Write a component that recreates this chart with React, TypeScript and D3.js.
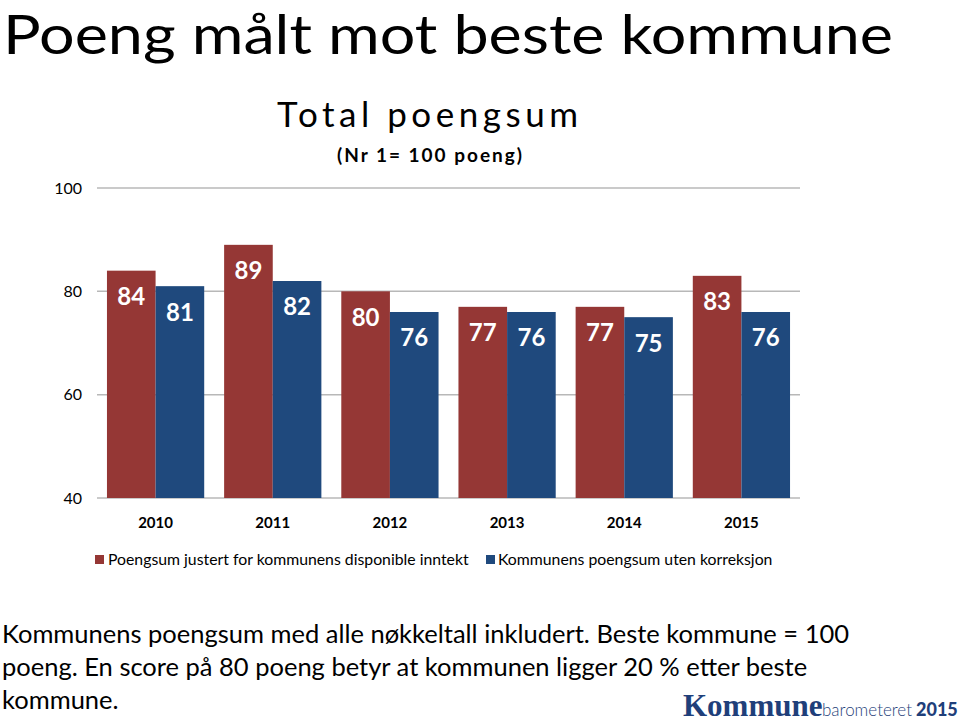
import React from "react";
import * as d3 from "d3";

const years = ["2010", "2011", "2012", "2013", "2014", "2015"];
const adjusted = [84, 89, 80, 77, 77, 83];
const uncorrected = [81, 82, 76, 76, 75, 76];
const yTicks = [40, 60, 80, 100];
const seriesNames = [
  "Poengsum justert for kommunens disponible inntekt",
  "Kommunens poengsum uten korreksjon",
];
const colors = ["#953735", "#1F497D"];

const FONT = "Lato, 'Open Sans', sans-serif";

export default function App() {
  const left = 97;
  const right = 800;
  const top = 188;
  const bottom = 498;
  const x = d3.scaleBand<string>().domain(years).range([left, right]).paddingInner(0.17).paddingOuter(0.085);
  const xs = d3.scaleBand<number>().domain([0, 1]).range([0, x.bandwidth()]);
  const y = d3.scaleLinear().domain([40, 100]).range([bottom, top]);
  const series = [adjusted, uncorrected];

  return (
    <svg
      width={960}
      height={722}
      style={{ position: "absolute", left: 0, top: 0, background: "#fff" }}
      fontFamily={FONT}
    >
      <text x={3} y={54} fontSize={54} fill="#000" textLength={890} lengthAdjust="spacingAndGlyphs">
        Poeng målt mot beste kommune
      </text>
      <text x={277} y={127} fontSize={35} fill="#000" textLength={301} lengthAdjust="spacing">
        Total poengsum
      </text>
      <text x={337} y={162} fontSize={19} fontWeight="bold" fill="#000" textLength={185} lengthAdjust="spacing">
        (Nr 1= 100 poeng)
      </text>

      {yTicks.map((t) => (
        <g key={t}>
          <line x1={left} x2={right} y1={y(t)} y2={y(t)} stroke="#b8b8b8" strokeWidth={1.5} />
          <text x={82} y={y(t)} dy="0.35em" fontSize={16} textAnchor="end" fill="#000">
            {t}
          </text>
        </g>
      ))}

      {years.map((yr, i) => (
        <g key={yr} transform={`translate(${x(yr)},0)`}>
          {series.map((s, j) => (
            <g key={j}>
              <rect
                x={xs(j)}
                y={y(s[i])}
                width={xs.bandwidth()}
                height={y(40) - y(s[i])}
                fill={colors[j]}
              />
              <text
                x={(xs(j) as number) + xs.bandwidth() / 2}
                y={y(s[i]) + 26}
                dy="0.35em"
                fontSize={24}
                fontWeight="bold"
                fill="#fff"
                textAnchor="middle"
              >
                {s[i]}
              </text>
            </g>
          ))}
          <text
            x={x.bandwidth() / 2}
            y={523}
            dy="0.35em"
            fontSize={15}
            fontWeight="bold"
            textAnchor="middle"
            fill="#000"
          >
            {yr}
          </text>
        </g>
      ))}

      <g>
        <rect x={95} y={555} width={9} height={9} fill={colors[0]} />
        <text x={108} y={559.5} dy="0.35em" fontSize={15.8} fill="#000">
          {seriesNames[0]}
        </text>
        <rect x={486} y={555} width={9} height={9} fill={colors[1]} />
        <text x={498} y={559.5} dy="0.35em" fontSize={15.8} fill="#000">
          {seriesNames[1]}
        </text>
      </g>

      <g fontSize={25.5} fill="#000">
        <text x={2} y={643}>Kommunens poengsum med alle nøkkeltall inkludert. Beste kommune = 100</text>
        <text x={2} y={676}>poeng. En score på 80 poeng betyr at kommunen ligger 20 % etter beste</text>
        <text x={2} y={709}>kommune.</text>
      </g>

      <g fill="#1F3F7A">
        <text x={683} y={716} fontSize={31} fontWeight="bold" fontFamily="'Liberation Serif', serif">
          Kommune
        </text>
        <text x={822} y={716} fontSize={17} fontWeight={300}>
          barometeret
        </text>
        <text x={916} y={716} fontSize={18} fontWeight={900}>
          2015
        </text>
      </g>
    </svg>
  );
}
